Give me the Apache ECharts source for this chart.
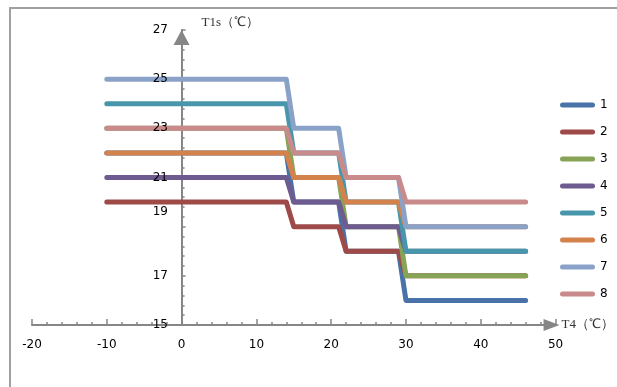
<!DOCTYPE html>
<html>
<head>
    <meta charset="utf-8">
    <script src="https://cdn.jsdelivr.net/npm/echarts@6/dist/echarts.min.js"></script>
</head>
<body style="margin:0;background:#fff">
<div id="chart" style="width:617px;height:387px"></div>
<script>
    // x positions of the step corners (T4, ℃)
    var xs = [-10, 14, 15, 21, 22, 29, 30, 46];
    var names = ['1', '2', '3', '4', '5', '6', '7', '8'];
    var s1 = [22, 22, 20, 20, 18, 18, 16, 16];
    var s2 = [20, 20, 19, 19, 18, 18, 17, 17];
    var s3 = [23, 23, 21, 21, 19, 19, 17, 17];
    var s4 = [21, 21, 20, 20, 19, 19, 18, 18];
    var s5 = [24, 24, 22, 22, 20, 20, 18, 18];
    var s6 = [22, 22, 21, 21, 20, 20, 19, 19];
    var s7 = [25, 25, 23, 23, 21, 21, 19, 19];
    var s8 = [23, 23, 22, 22, 21, 21, 20, 20];
    var colors = ['#4872a8', '#9e4a48', '#86a356', '#6e5b90', '#4896ab', '#d4824c', '#8aa2c8', '#c88a8b'];

    var allSeries = [s1, s2, s3, s4, s5, s6, s7, s8];

    var toPairs = function (ys) {
        var res = [];
        for (var i = 0; i < xs.length; i++) {
            res.push([xs[i], ys[i]]);
        }
        return res;
    };

    var series = [];
    for (var k = 0; k < allSeries.length; k++) {
        series.push({
            name: names[k],
            type: 'line',
            symbol: 'none',
            yAxisIndex: 0,
            data: toPairs(allSeries[k]),
            lineStyle: {width: 5, cap: 'round', join: 'round', color: colors[k]},
            itemStyle: {color: colors[k]}
        });
    }

    var axisGray = '#868686';
    var labelFont = {fontFamily: 'DejaVu Sans', fontSize: 12, color: '#000'};

    var myChart = echarts.init(document.getElementById('chart'));
    myChart.setOption({
        animation: false,
        color: colors,
        grid: {left: 32, right: 58, top: 30, bottom: 62},
        graphic: [{
            type: 'rect',
            shape: {x: 10, y: 8, width: 700, height: 500},
            style: {fill: 'none', stroke: '#a0a0a0', lineWidth: 2},
            silent: true
        }],
        legend: {
            orient: 'vertical',
            left: 555,
            top: 94,
            // capsule shaped line icon
            icon: 'path://M2.5,0 H32.5 A2.5,2.5 0 0 1 32.5,5 H2.5 A2.5,2.5 0 0 1 2.5,0 Z',
            itemWidth: 35,
            itemHeight: 5,
            itemGap: 15,
            textStyle: labelFont,
            data: names
        },
        xAxis: {
            type: 'value',
            min: -20,
            max: 50,
            interval: 10,
            name: 'T4（℃）',
            nameLocation: 'end',
            nameGap: 6,
            nameTextStyle: {fontFamily: 'Liberation Serif', fontSize: 13, color: '#333', align: 'left'},
            axisLine: {
                lineStyle: {color: axisGray, width: 2},
                symbol: ['none', 'triangle'],
                symbolSize: [12, 16],
                symbolOffset: [0, -4]
            },
            axisTick: {inside: true, length: 6, lineStyle: {color: axisGray, width: 1.5}},
            minorTick: {show: true, splitNumber: 5, length: 3, lineStyle: {color: axisGray, width: 1.5}},
            axisLabel: {margin: 14, fontFamily: 'DejaVu Sans', fontSize: 12, color: '#000'},
            splitLine: {show: false}
        },
        yAxis: [{
            type: 'value',
            min: 15,
            max: 27,
            interval: 2,
            name: 'T1s（℃）',
            nameLocation: 'end',
            nameGap: 7,
            nameTextStyle: {
                fontFamily: 'Liberation Serif', fontSize: 13, color: '#333',
                align: 'left', verticalAlign: 'middle', padding: [0, 0, 0, 20]
            },
            axisLine: {
                onZero: true,
                lineStyle: {color: axisGray, width: 2},
                symbol: ['none', 'triangle'],
                symbolSize: [16, 15],
                symbolOffset: [0, -7.5]
            },
            axisTick: {inside: true, length: 4, lineStyle: {color: axisGray, width: 1.5}},
            minorTick: {show: true, splitNumber: 5, length: 3, lineStyle: {color: axisGray, width: 1.5}},
            axisLabel: {show: false},
            splitLine: {show: false}
        }, {
            // labels only, drawn above the lines like the text boxes in the original
            type: 'value',
            position: 'left',
            min: 15,
            max: 27,
            interval: 2,
            z: 10,
            axisLine: {show: false, onZero: false},
            axisTick: {show: false},
            axisLabel: {
                // labels sit next to the axis at x = 0, not at the grid edge
                margin: -136,
                fontFamily: 'DejaVu Sans', fontSize: 12, color: '#000',
                // the 19 label sits a bit higher in the original
                formatter: function (v) {
                    return v === 19 ? '{up|19}' : String(v);
                },
                rich: {
                    up: {fontFamily: 'DejaVu Sans', fontSize: 12, color: '#000', padding: [0, 0, 30, 0]}
                }
            },
            splitLine: {show: false}
        }],
        series: series
    });
</script>
</body>
</html>
